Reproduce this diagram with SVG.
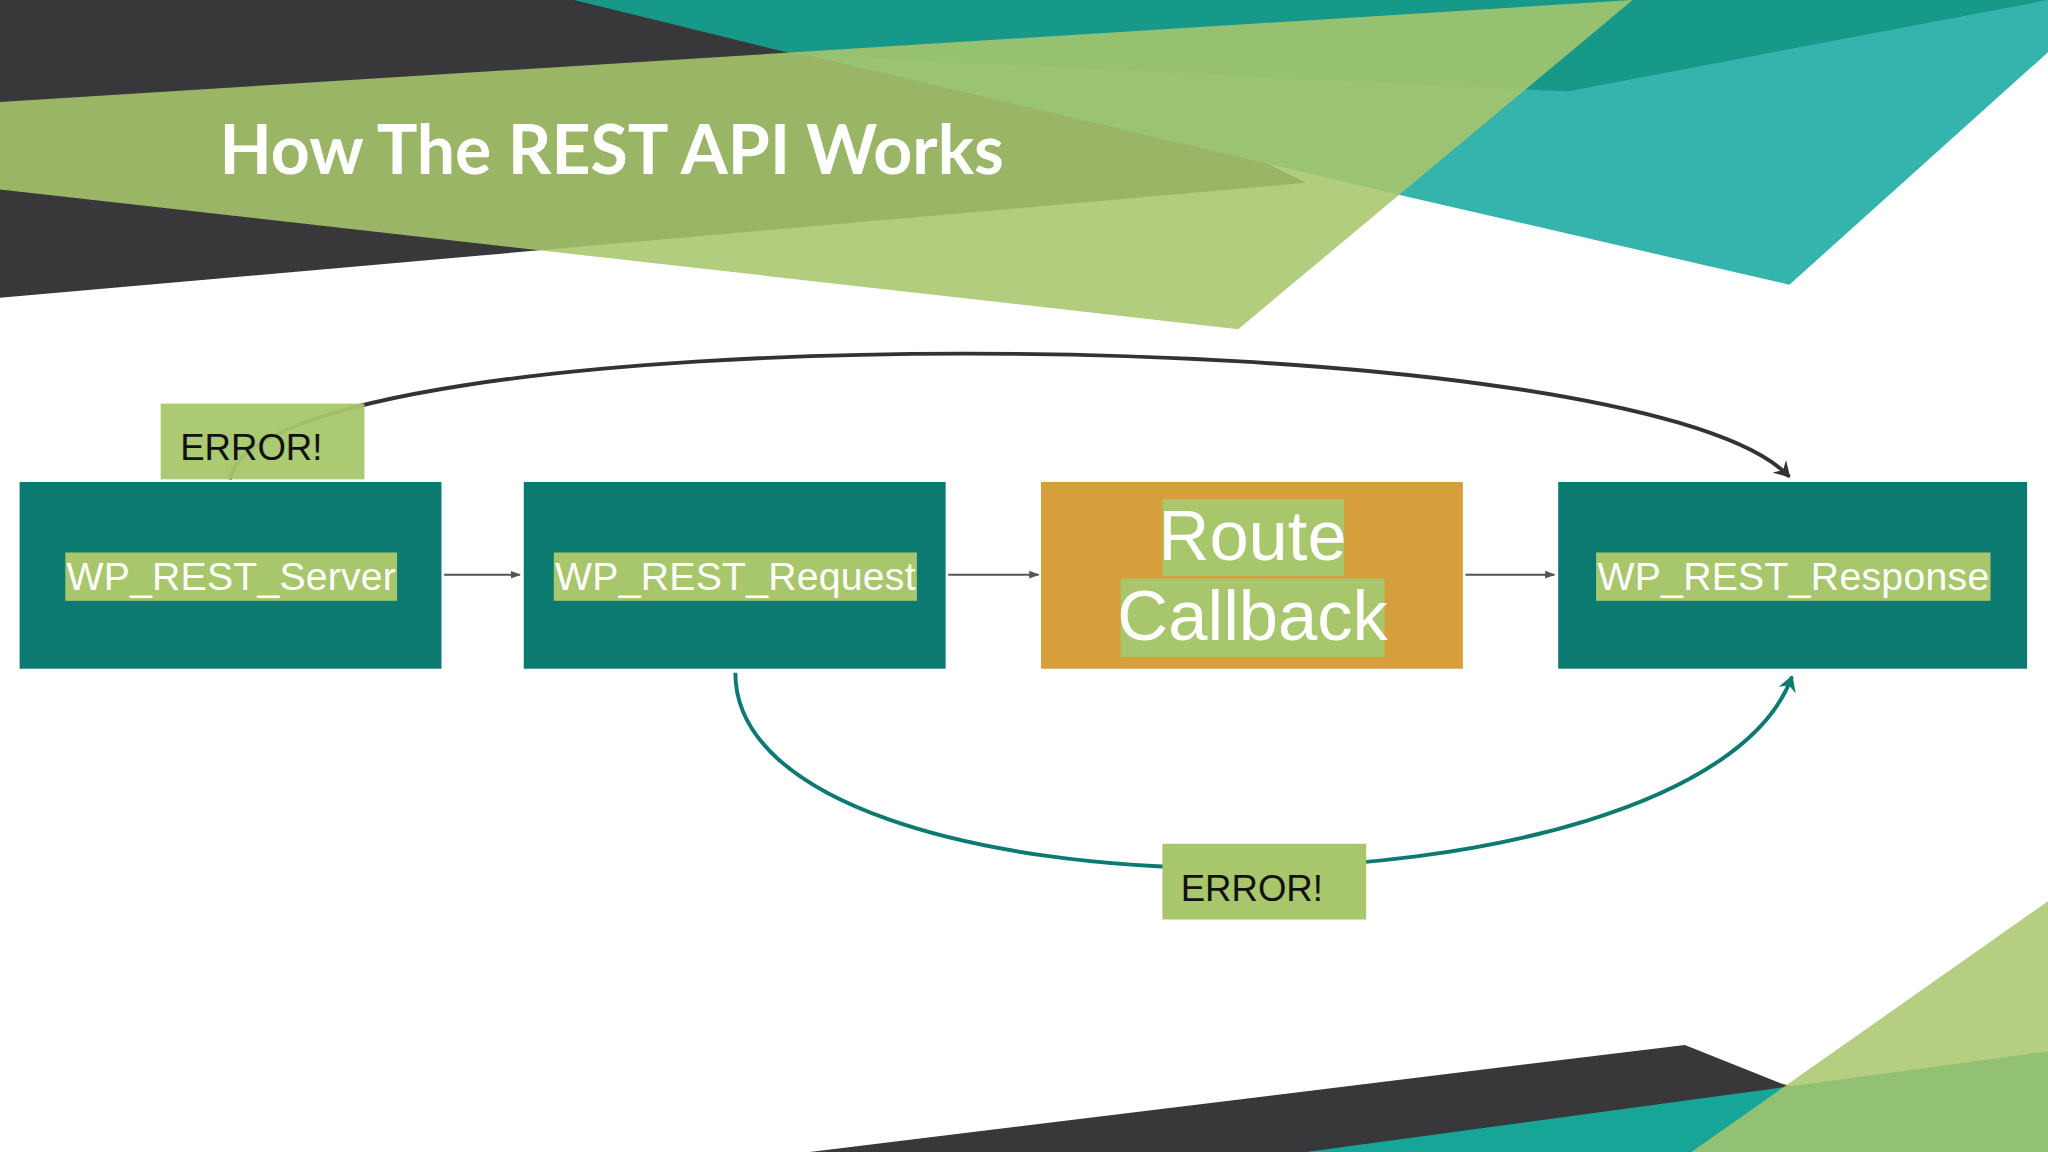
<svg xmlns="http://www.w3.org/2000/svg" width="2048" height="1152" viewBox="0 0 2048 1152">
<style>
.box{fill:#0c7a70}.hl{fill:#a8c66c}.lbl{font-family:"Liberation Sans",Arial,sans-serif;fill:#fff}
.err{font-family:"Liberation Sans",Arial,sans-serif;fill:#111;font-size:28px}
.small{stroke:#555;stroke-width:1.5;fill:none}
</style>
<defs>
<marker id="sa" markerWidth="8" markerHeight="8" refX="7" refY="4" orient="auto" markerUnits="userSpaceOnUse"><path d="M0,1 L8,4 L0,7z" fill="#555"/></marker>
<marker id="da" markerWidth="14" markerHeight="14" refX="11" refY="7" orient="auto" markerUnits="userSpaceOnUse"><path d="M0,0 L12,7 L0,14 L4,7z" fill="#333"/></marker>
<marker id="ta" markerWidth="14" markerHeight="14" refX="11" refY="7" orient="auto" markerUnits="userSpaceOnUse"><path d="M0,0 L12,7 L0,14 L4,7z" fill="#0c7a70"/></marker>
</defs>
<rect width="2048" height="1152" fill="#fff"/>
<g transform="scale(1.30612)">
<g id="bg">
<polygon points="0,0 720,0 1000,140 0,228" fill="#38383a"/>
<polygon points="440,0 1568,0 1568,40 1370,218 1075,150" fill="#35b3ad"/>
<polygon points="440,0 1568,0 1200,70 610,42" fill="#17998a"/>
<polygon points="0,78 1250,0 948,252 0,145" fill="#a8c66c" opacity="0.88"/>
<polygon points="620,882 1290,800 1365,830 1568,882" fill="#38383a"/>
<polygon points="1000,882 1568,805 1568,882" fill="#17a597"/>
<polygon points="1295,882 1568,690 1568,882" fill="#a8c66c" opacity="0.85"/>
<text x="168" y="133" font-family="Lato,'Open Sans',sans-serif" font-weight="bold" font-size="52" fill="#fff">How The REST API Works</text>
</g>
<g id="connectors">
<path class="small" d="M340,440 L398,440" marker-end="url(#sa)"/>
<path class="small" d="M726,440 L795,440" marker-end="url(#sa)"/>
<path class="small" d="M1122,440 L1190,440" marker-end="url(#sa)"/>
<path d="M176,367 C200,239 1250,239 1370,365" fill="none" stroke="#333" stroke-width="3" marker-end="url(#da)"/>
<path d="M563,515 C563,714 1300,714 1372,518" fill="none" stroke="#0c7a70" stroke-width="3" marker-end="url(#ta)"/>
</g>
<g id="n-server"><rect class="box" x="15" y="369" width="323" height="143"/><rect class="hl" x="50" y="423" width="254" height="37"/><text class="lbl" x="177" y="452" font-size="30" text-anchor="middle" textLength="252">WP_REST_Server</text></g>
<g id="n-request"><rect class="box" x="401" y="369" width="323" height="143"/><rect class="hl" x="424" y="423" width="278" height="37"/><text class="lbl" x="563" y="452" font-size="30" text-anchor="middle" textLength="276">WP_REST_Request</text></g>
<g id="n-callback"><rect x="797" y="369" width="323" height="143" fill="#d69f3c"/><rect class="hl" x="890" y="382" width="139" height="59"/><rect class="hl" x="858" y="443" width="202" height="60"/><text class="lbl" x="959" y="429" font-size="54" text-anchor="middle">Route</text><text class="lbl" x="959" y="490" font-size="54" text-anchor="middle">Callback</text></g>
<g id="n-response"><rect class="box" x="1193" y="369" width="359" height="143"/><rect class="hl" x="1222" y="423" width="302" height="37"/><text class="lbl" x="1373" y="452" font-size="30" text-anchor="middle" textLength="300">WP_REST_Response</text></g>
<g id="e1"><rect class="hl" x="123" y="309" width="156" height="58" opacity="0.95"/><text class="err" x="138" y="352">ERROR!</text></g>
<g id="e2"><rect class="hl" x="890" y="646" width="156" height="58"/><text class="err" x="904" y="690">ERROR!</text></g>
</g>
</svg>
